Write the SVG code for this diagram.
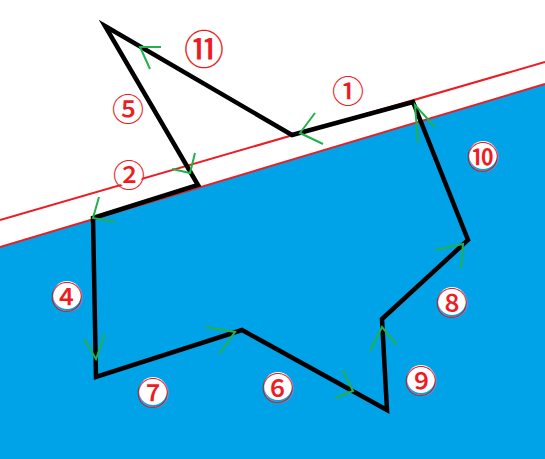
<svg xmlns="http://www.w3.org/2000/svg" width="545" height="459" viewBox="0 0 545 459">
<defs>
<style>
.bg{fill:#ffffff}
.water{fill:#00A2E8}
.rl{stroke:#ED1C24;stroke-width:2;fill:none}
.path{stroke:#000;stroke-width:4.5;fill:none;stroke-linejoin:miter}
.ar{stroke:#22B14C;stroke-width:2;fill:none}
.disc{fill:#fff}
.lbl{font-family:"Noto Sans CJK SC","DejaVu Sans",sans-serif;font-size:32px;font-weight:500;fill:#ED1C24;text-anchor:middle;dominant-baseline:central}
</style>
</defs>
<rect class="bg" x="0" y="0" width="545" height="459"/>
<polygon class="water" points="0,247 545,84 545,459 0,459"/>
<g id="shore-lines">
<line class="rl" x1="0" y1="220" x2="545" y2="62"/>
<line class="rl" x1="0" y1="247" x2="545" y2="84"/>
</g>
<g id="connectors">
<polygon class="path" points="105,26 292,135 413,102 468,240 382,319 387,410 242,330 96,377 93,218 198,185"/>
<polyline class="ar" points="161,47 140,47 150,69"/>
<polyline class="ar" points="315,113 300,133 323,144"/>
<polyline class="ar" points="418,143 415,105 435,127"/>
<polyline class="ar" points="435,250 463,244 461,268"/>
<polyline class="ar" points="370,351 382,327 397,345"/>
<polyline class="ar" points="343,370 353,391 335,398"/>
<polyline class="ar" points="206,327 235,332 219,354"/>
<polyline class="ar" points="84,339 96,359 105,334"/>
<polyline class="ar" points="99,197 93,218 115,222"/>
<polyline class="ar" points="195,153 190,173 172,169"/>
</g>
<g id="n1"><circle class="disc" cx="348" cy="89" r="14"/><text class="lbl" x="348" y="89">①</text></g>
<g id="n2"><circle class="disc" cx="129" cy="173" r="14"/><text class="lbl" x="129" y="173">②</text></g>
<g id="n4"><circle class="disc" cx="67" cy="295" r="14"/><text class="lbl" x="67" y="295">④</text></g>
<g id="n5"><circle class="disc" cx="128" cy="107" r="14"/><text class="lbl" x="128" y="107">⑤</text></g>
<g id="n6"><circle class="disc" cx="278" cy="386" r="14"/><text class="lbl" x="278" y="386">⑥</text></g>
<g id="n7"><circle class="disc" cx="153" cy="391" r="14"/><text class="lbl" x="153" y="391">⑦</text></g>
<g id="n8"><circle class="disc" cx="452" cy="301" r="14"/><text class="lbl" x="452" y="301">⑧</text></g>
<g id="n9"><circle class="disc" cx="421" cy="379" r="14"/><text class="lbl" x="421" y="379">⑨</text></g>
<g id="n10"><circle class="disc" cx="483" cy="155" r="14"/><text class="lbl" x="483" y="155">⑩</text></g>
<g id="n11"><circle class="disc" cx="204" cy="47" r="17"/><text class="lbl" x="204" y="47" style="font-size:40px">⑪</text></g>
</svg>
